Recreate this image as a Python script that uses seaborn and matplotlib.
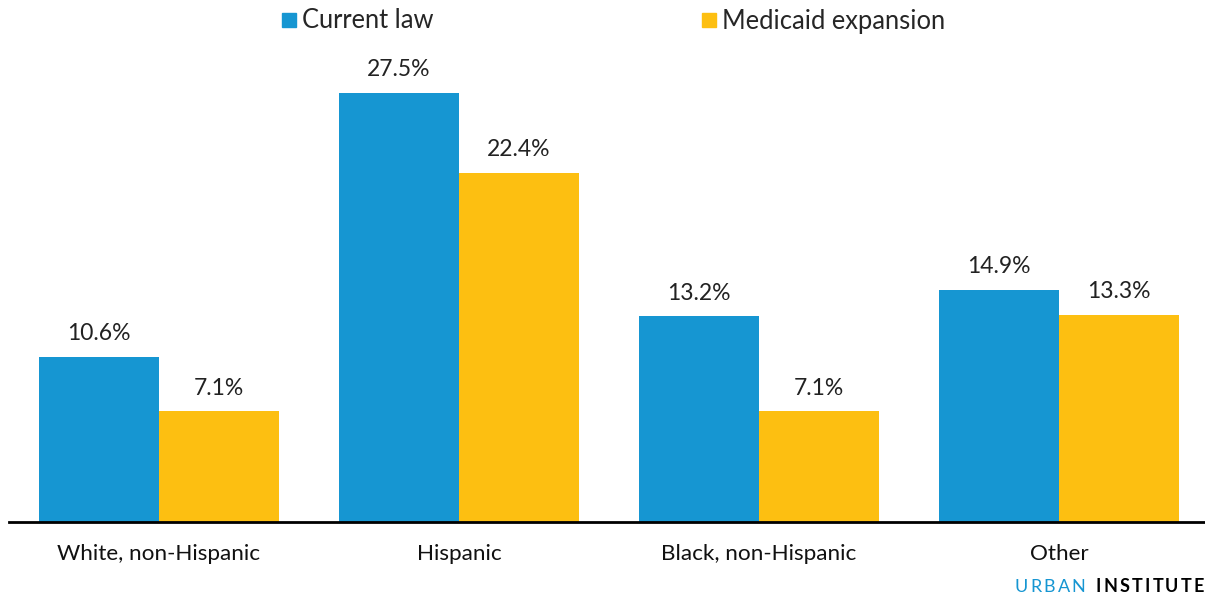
import pandas as pd
import numpy as np
import matplotlib.pyplot as plt
import seaborn as sns
from matplotlib.lines import Line2D

# Chart data
groups = ['White, non-Hispanic', 'Hispanic', 'Black, non-Hispanic', 'Other']
current_law = [10.6, 27.5, 13.2, 14.9]
medicaid_expansion = [7.1, 22.4, 7.1, 13.3]
series_names = ['Current law', 'Medicaid expansion']
colors = ['#1696d2', '#fdbf11']

df = pd.DataFrame({
    'group': groups * 2,
    'value': current_law + medicaid_expansion,
    'series': [series_names[0]] * 4 + [series_names[1]] * 4,
})

sns.set_style('white')
plt.rcParams['font.family'] = ['Lato', 'DejaVu Sans']

fig = plt.figure(figsize=(12.05, 5.98), dpi=100)
ax = fig.add_axes([9 / 1205, 76 / 598, 1196 / 1205, 462 / 598])

sns.barplot(data=df, x='group', y='value', hue='series', palette=colors,
            width=0.8, saturation=1, linewidth=0, ax=ax, legend=False)

# Value labels
for container in ax.containers:
    ax.bar_label(container, labels=[f'{v:.1f}%' for v in container.datavalues],
                 padding=9, fontsize=16.5, color='#222222')

ax.set_xlim(-0.5, 3.487)
ax.set_ylim(0, 462 / 15.6)
ax.set_xlabel('')
ax.set_ylabel('')
ax.set_yticks([])
ax.tick_params(axis='x', length=0, pad=15.5, labelsize=16.2, labelcolor='#111111')
for side in ['left', 'right', 'top']:
    ax.spines[side].set_visible(False)
ax.spines['bottom'].set_color('black')
ax.spines['bottom'].set_linewidth(2)

# Legend
handles = [Line2D([], [], marker='s', linestyle='', markersize=10, color=c) for c in colors]
fig.legend(handles, series_names, loc='center', bbox_to_anchor=(613 / 1205, 1 - 21 / 598),
           ncol=2, frameon=False, fontsize=18.4, handletextpad=0.2, handlelength=0.6,
           columnspacing=10.5)


# Branding with letter spacing, laid out right to left
def tracked_text(x_right, y, s, tracking, **kw):
    renderer = fig.canvas.get_renderer()
    x = x_right
    for ch in reversed(s):
        t = fig.text(x, y, ch, ha='right', va='center', transform=None, **kw)
        w = t.get_window_extent(renderer).width
        x -= w + tracking
    return x


y_brand = 598 - 587
x_left = tracked_text(1204, y_brand, 'INSTITUTE', 2.2, fontsize=13, color='#000000',
                      fontweight='bold')
tracked_text(x_left - 8, y_brand, 'URBAN', 2.2, fontsize=13, color='#1696d2')

fig.savefig('out.png', dpi=100)
